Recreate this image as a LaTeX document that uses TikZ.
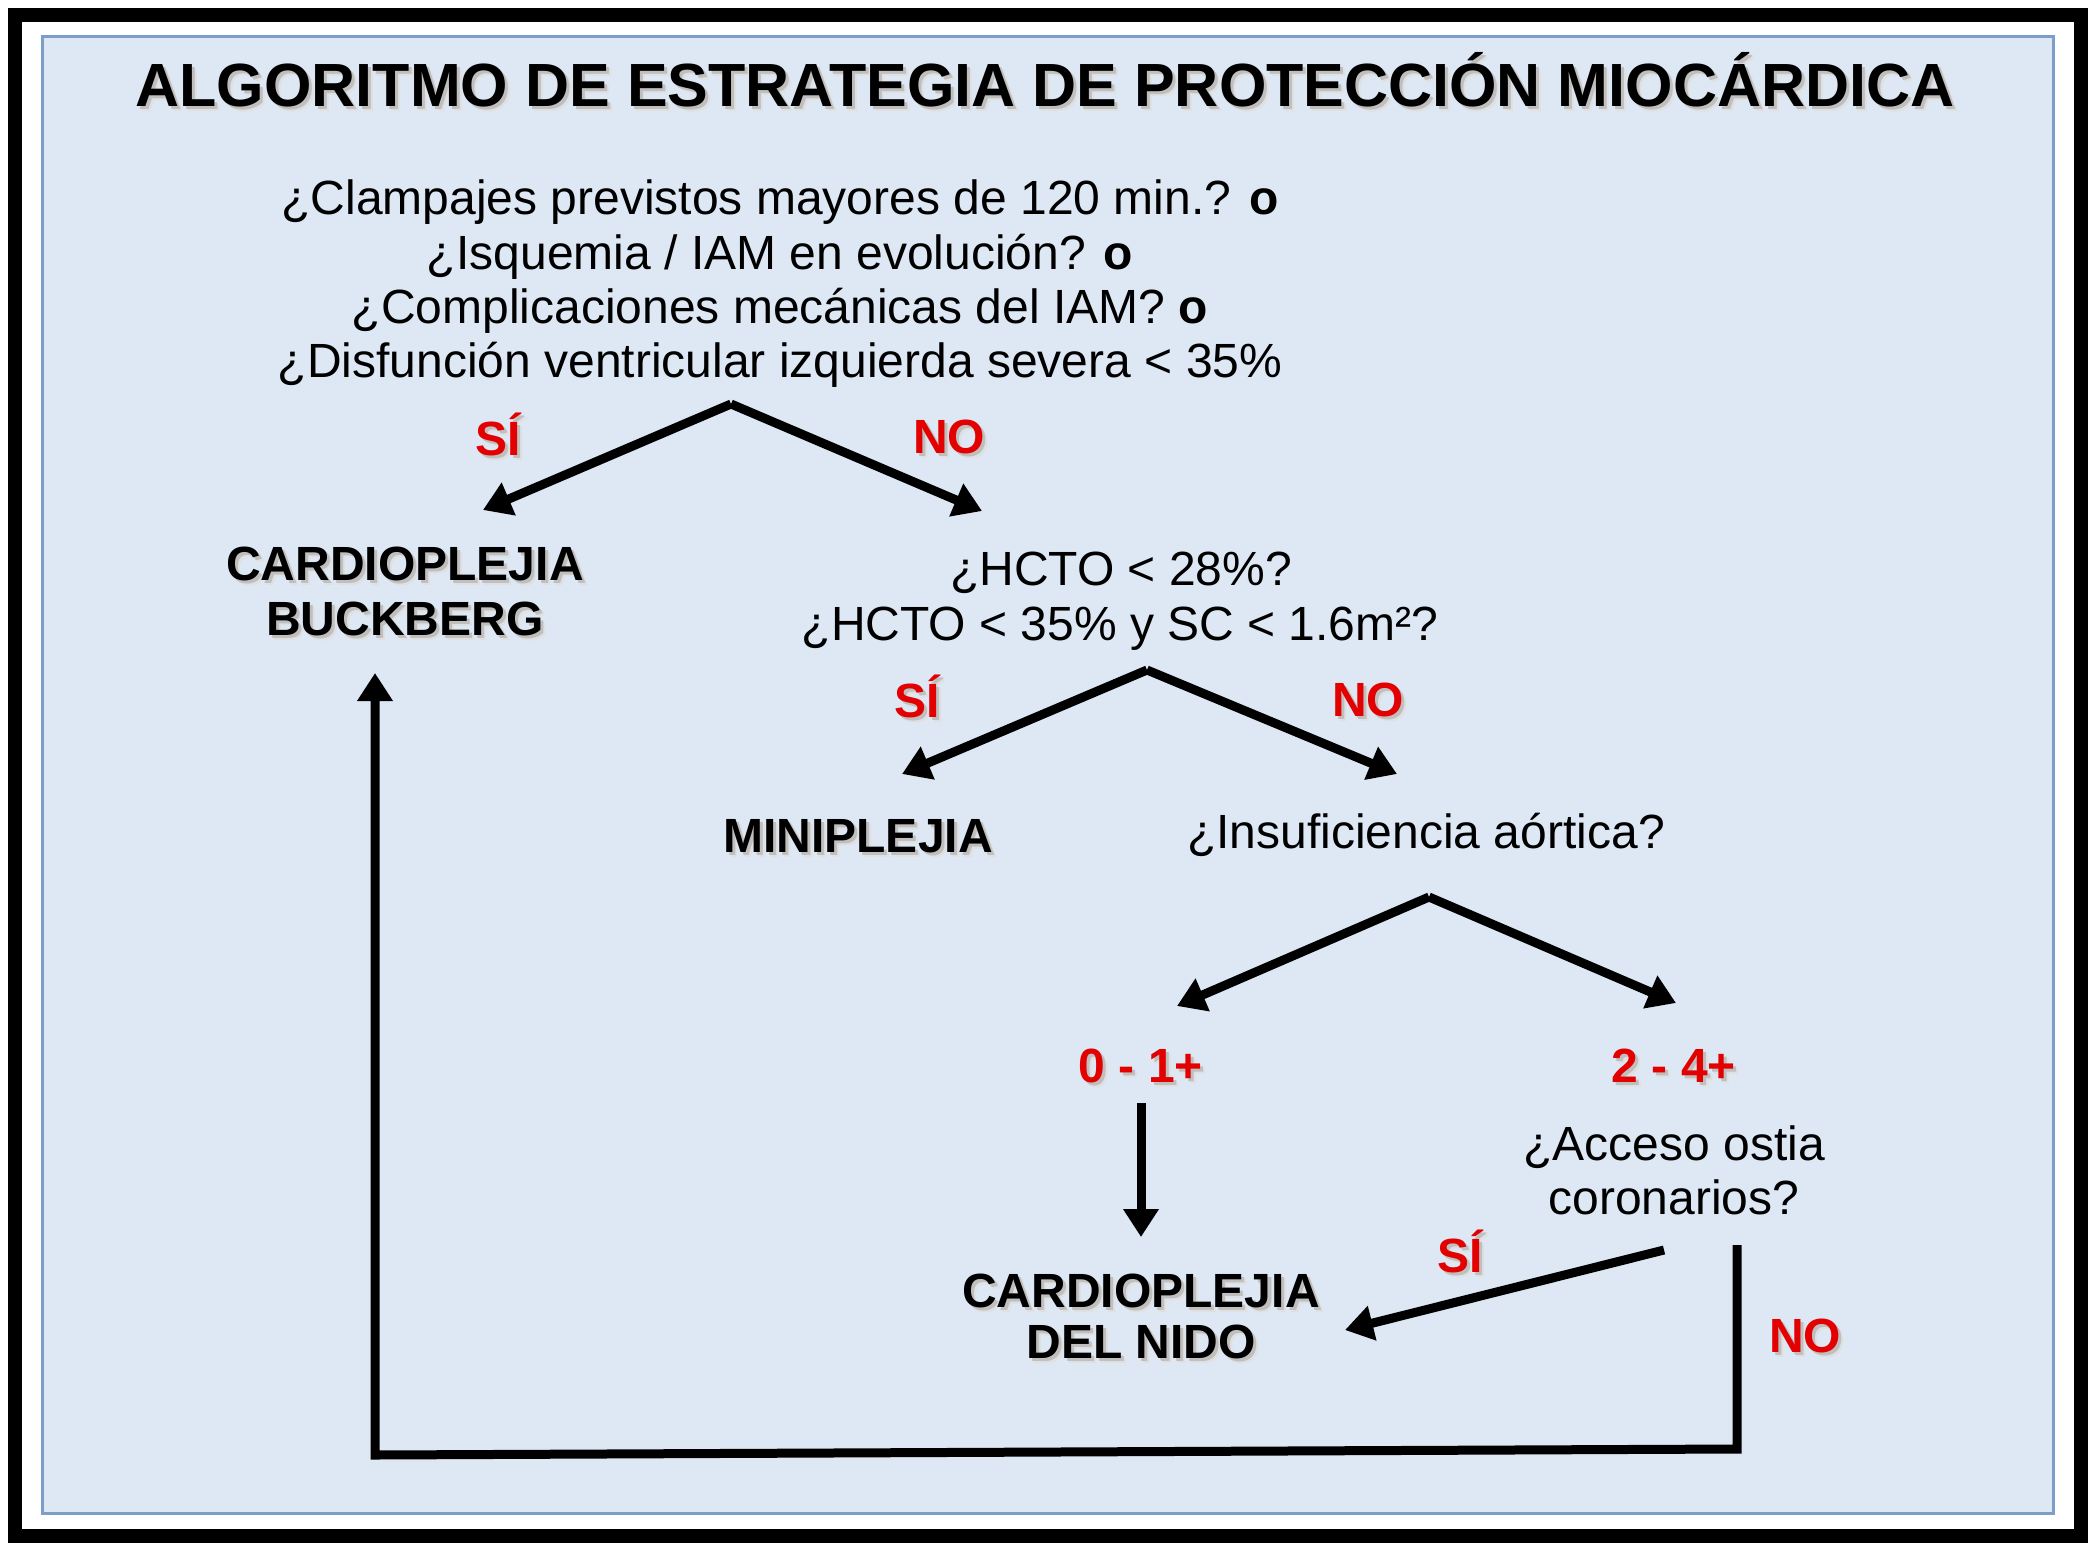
\documentclass[tikz,border=0pt]{standalone}
\usepackage{fontspec}
\setmainfont{Liberation Sans}
\usetikzlibrary{arrows.meta}
\definecolor{panel}{RGB}{221,232,244}
\definecolor{panelline}{RGB}{125,157,201}
\definecolor{lblred}{RGB}{226,0,0}
\newcommand\shd[1]{\leavevmode\rlap{\kern5pt\raisebox{-5pt}{\color{black!12}#1}}\rlap{\kern3pt\raisebox{-3pt}{\color{black!25}#1}}#1}
\tikzset{
  qtext/.style={font=\fontsize{48}{54}\selectfont, anchor=base, inner sep=0pt},
  lbl/.style={font=\fontsize{48}{54}\selectfont\bfseries, anchor=base, inner sep=0pt},
  rlbl/.style={lbl, text=lblred},
  arr/.style={line width=9pt, -{Triangle[width=34pt,length=28pt]}, line join=miter},
}
\begin{document}
\begin{tikzpicture}[x=1pt,y=-1pt]
\useasboundingbox (0,0) rectangle (2092,1547);
\fill[white] (0,0) rectangle (2092,1547);
\draw[line width=14pt] (15,15) rectangle (2081,1536);
\draw[panelline, line width=3pt, fill=panel] (42,36) rectangle (2053,1513);

% title
\node[lbl, font=\fontsize{61}{70}\selectfont\bfseries] (title) at (1045,106) {\shd{ALGORITMO DE ESTRATEGIA DE PROTECCIÓN MIOCÁRDICA}};

% first question
\node[qtext] (q1) at (780,214) {¿Clampajes previstos mayores de 120 min.? \textbf{o}};
\node[qtext] (q2) at (780,269) {¿Isquemia / IAM en evolución? \textbf{o}};
\node[qtext] (q3) at (780,323) {¿Complicaciones mecánicas del IAM? \textbf{o}};
\node[qtext] (q4) at (780,377) {¿Disfunción ventricular izquierda severa < 35\%};

\coordinate (a1) at (731,404);
\coordinate (t1l) at (483,510);
\coordinate (t1r) at (982,511);
\draw[arr] (a1) -- (t1l);
\draw[arr] (a1) -- (t1r);
\node[rlbl] (si1) at (498,455) {\shd{SÍ}};
\node[rlbl] (no1) at (949,453) {\shd{NO}};

% Buckberg
\node[lbl] (buck1) at (405,580) {\shd{CARDIOPLEJIA}};
\node[lbl] (buck2) at (405,635) {\shd{BUCKBERG}};

% HCTO
\node[qtext] (h1) at (1121,585) {¿HCTO < 28\%?};
\node[qtext] (h2) at (1120,640) {¿HCTO < 35\% y SC < 1.6m²?};

\coordinate (a2) at (1147,670);
\coordinate (t2l) at (902,774);
\coordinate (t2r) at (1397,774);
\draw[arr] (a2) -- (t2l);
\draw[arr] (a2) -- (t2r);
\node[rlbl] (si2) at (917,717) {\shd{SÍ}};
\node[rlbl] (no2) at (1368,716) {\shd{NO}};

\node[lbl] (mini) at (858,852) {\shd{MINIPLEJIA}};
\node[qtext] (insuf) at (1426,848) {¿Insuficiencia aórtica?};

\coordinate (a3) at (1429,897);
\coordinate (t3l) at (1177,1006);
\coordinate (t3r) at (1676,1003);
\draw[arr] (a3) -- (t3l);
\draw[arr] (a3) -- (t3r);

\node[rlbl] (r01) at (1141,1082) {\shd{0 - 1+}};
\node[rlbl] (r24) at (1674,1082) {\shd{2 - 4+}};

\coordinate (d0) at (1141,1103);
\coordinate (d1) at (1141,1237);
\draw[arr] (d0) -- (d1);

\node[qtext] (ac1) at (1674,1160) {¿Acceso ostia};
\node[qtext] (ac2) at (1674,1214) {coronarios?};

\node[lbl] (nido1) at (1141,1307) {\shd{CARDIOPLEJIA}};
\node[lbl] (nido2) at (1141,1358) {\shd{DEL NIDO}};

\coordinate (s3a) at (1664,1250);
\coordinate (s3b) at (1345,1330);
\draw[arr] (s3a) -- (s3b);
\node[rlbl] (si3) at (1460,1272) {\shd{SÍ}};

\coordinate (n3a) at (1737,1245);
\coordinate (n3b) at (1737,1449);
\coordinate (n3c) at (375,1455);
\coordinate (n3d) at (375,673);
\draw[arr] (n3a) -- (n3b) -- (n3c) -- (n3d);
\node[rlbl] (no3) at (1805,1352) {\shd{NO}};
\end{tikzpicture}
\end{document}
